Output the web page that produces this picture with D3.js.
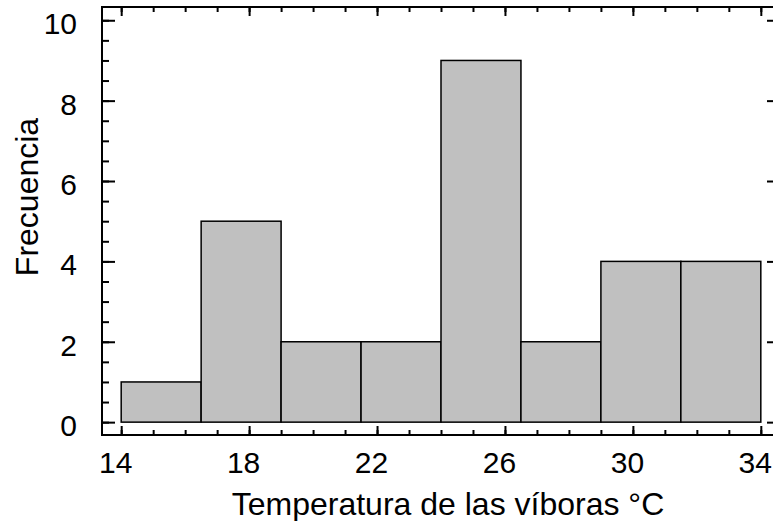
<!DOCTYPE html>
<html>
<head>
<meta charset="utf-8">
<script src="https://cdn.jsdelivr.net/npm/d3@7"></script>
<style>
  body { margin: 0; background: #fff; }
  text { font-family: "Liberation Sans", Arial, sans-serif; fill: #000; }
</style>
</head>
<body>
<div id="chart"></div>
<script>
// histogram of snake temperatures
var binEdges = [14, 16.5, 19, 21.5, 24, 26.5, 29, 31.5, 34];
var counts = [1, 5, 2, 2, 9, 2, 4, 4];
var xTickValues = [14, 18, 22, 26, 30, 34];
var yTickValues = [0, 2, 4, 6, 8, 10];
var xLabel = "Temperatura de las víboras °C";
var yLabel = "Frecuencia";

var width = 773, height = 521;
var margin = {left: 102, top: 7, right: -7, bottom: 86};
var plotW = width - margin.left - margin.right;
var plotH = height - margin.top - margin.bottom;
var tickFont = 30, titleFont = 32;

var svg = d3.select("#chart").append("svg")
  .attr("width", width)
  .attr("height", height);

var x = d3.scaleLinear().domain([13.4, 34.6]).range([0, plotW]);
var y = d3.scaleLinear().domain([-0.32, 10.33]).range([plotH, 0]);

var g = svg.append("g")
  .attr("transform", "translate(" + margin.left + "," + margin.top + ")");

/** bars */
g.selectAll("rect.bar")
  .data(counts)
  .enter().append("rect")
  .attr("class", "bar")
  .attr("x", function(d, i) { return x(binEdges[i]); })
  .attr("y", function(d) { return y(d); })
  .attr("width", function(d, i) { return x(binEdges[i + 1]) - x(binEdges[i]); })
  .attr("height", function(d) { return y(0) - y(d); })
  .style("fill", "#c0c0c0")
  .style("stroke", "#000")
  .style("stroke-width", 1.5);

var xMinor = d3.range(14, 34.01, 1);
var yMinor = d3.range(0, 10.01, 0.5);

function styleAxis(sel) {
  sel.select(".domain").remove();
  sel.selectAll("line").style("stroke", "#000").style("stroke-width", 2);
  sel.selectAll("text").style("font-size", tickFont + "px")
    .style("font-family", "'Liberation Sans', Arial, sans-serif");
}

/** bottom axis, ticks pointing inward */
g.append("g").attr("transform", "translate(0," + plotH + ")")
  .call(d3.axisBottom(x).tickValues(xMinor).tickSize(-5).tickFormat(""))
  .call(styleAxis);
g.append("g").attr("transform", "translate(0," + plotH + ")")
  .call(d3.axisBottom(x).tickValues(xTickValues).tickSize(-9).tickPadding(17).tickFormat(d3.format("d")))
  .call(styleAxis)
  .selectAll("text").attr("dx", -6);

/** top axis */
g.append("g")
  .call(d3.axisTop(x).tickValues(xMinor).tickSize(-5).tickFormat(""))
  .call(styleAxis);
g.append("g")
  .call(d3.axisTop(x).tickValues(xTickValues).tickSize(-9).tickFormat(""))
  .call(styleAxis);

/** left axis */
g.append("g")
  .call(d3.axisLeft(y).tickValues(yMinor).tickSize(-7).tickFormat(""))
  .call(styleAxis);
g.append("g")
  .call(d3.axisLeft(y).tickValues(yTickValues).tickSize(-13).tickPadding(25).tickFormat(d3.format("d")))
  .call(styleAxis)
  .selectAll("text").attr("dy", "0.45em");

/** right axis */
g.append("g").attr("transform", "translate(" + plotW + ",0)")
  .call(d3.axisRight(y).tickValues(yMinor).tickSize(-7).tickFormat(""))
  .call(styleAxis);
g.append("g").attr("transform", "translate(" + plotW + ",0)")
  .call(d3.axisRight(y).tickValues(yTickValues).tickSize(-13).tickFormat(""))
  .call(styleAxis);

/** frame */
g.append("rect")
  .attr("width", plotW)
  .attr("height", plotH)
  .style("fill", "none")
  .style("stroke", "#000")
  .style("stroke-width", 2);

/** axis titles */
svg.append("text")
  .attr("x", 448)
  .attr("y", 515)
  .attr("text-anchor", "middle")
  .style("font-size", titleFont + "px")
  .text(xLabel);

svg.append("text")
  .attr("transform", "translate(38,197) rotate(-90)")
  .attr("text-anchor", "middle")
  .style("font-size", titleFont + "px")
  .text(yLabel);
</script>
</body>
</html>
